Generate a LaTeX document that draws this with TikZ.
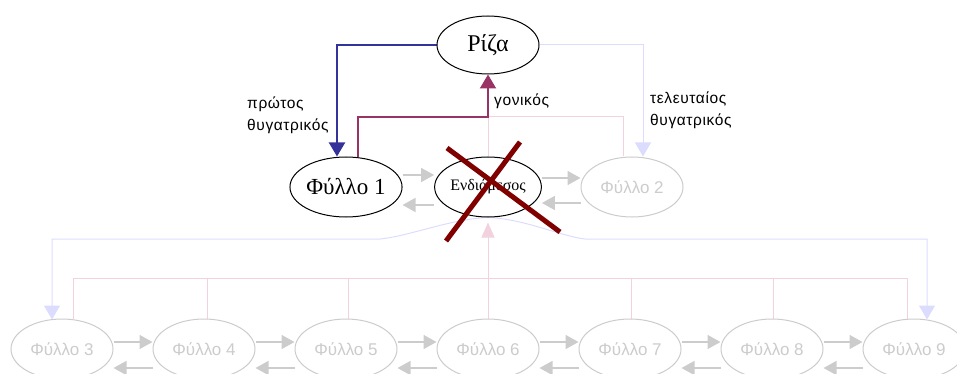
\documentclass[tikz,border=0pt]{standalone}
\usepackage{fontspec}
\setmainfont{Liberation Serif}
\setsansfont{Liberation Sans}
\newfontfamily\labelfont[LetterSpace=4]{Liberation Sans}
\usetikzlibrary{shapes.geometric,arrows.meta,backgrounds,calc}

\definecolor{linkblue}{HTML}{333399}
\definecolor{parentpurple}{HTML}{993366}
\definecolor{palepink}{HTML}{F2D2DE}
\definecolor{palelav}{HTML}{DCDCFF}
\definecolor{ghost}{HTML}{CCCCCC}
\definecolor{crossred}{HTML}{800000}

\begin{document}
\begin{tikzpicture}[x=1pt,y=-1pt,
  leaf/.style={ellipse,draw,fill=white,line width=1pt,minimum width=102pt,minimum height=60pt,inner sep=0pt},
  ghostleaf/.style={leaf,draw=ghost,text=ghost,font=\sffamily\fontsize{17}{17}\selectfont},
  bigtip/.style={-{Triangle[length=14pt,width=16pt]}},
  sib/.style={draw=ghost,line width=1.5pt,-{Triangle[length=13pt,width=14pt]}},
  lbl/.style={font=\labelfont\fontsize{15.5}{22}\selectfont,align=left,anchor=north west,inner sep=0pt},
]
\useasboundingbox (0,0) rectangle (957,374);
\clip (0,0) rectangle (957,374);

% tree nodes
\node[leaf,minimum height=58pt,font=\fontsize{24}{24}\selectfont] (root) at (488,45) {Ρίζα};
\node[leaf,font=\fontsize{23}{23}\selectfont] (leafA) at (346,187) {Φύλλο 1};
\node[leaf,font=\fontsize{16}{16}\selectfont] (mid) at (488,187) {Ενδιάμεσος};
\node[ghostleaf] (leafB) at (632,187) {Φύλλο 2};
\foreach \i/\x in {3/62,4/204,5/346,6/488,7/630,8/772,9/914}
  \node[ghostleaf] (leaf\i) at (\x,349) {Φύλλο \i};

% labels
\node[lbl] (lblfirst) at (247,97) {πρώτος\\θυγατρικός};
\node[lbl] (lblparent) at (494,94) {γονικός};
\node[lbl] (lbllast) at (650,92) {τελευταίος\\θυγατρικός};

\coordinate (join) at (488,117);

\begin{scope}[on background layer]
  % parent links (pale)
  \draw[palepink,line width=1pt] (mid.north) -- (join);
  \draw[palepink,line width=1pt] (join) -| ($(leafB.north)+(-9,0)$);
  \draw[palepink,line width=1pt] ($(leaf3.north)+(11,0)$) |- ($(leaf9.north)+(-7,-40)$) -- ($(leaf9.north)+(-7,0)$);
  \foreach \i/\dx in {4/3,5/2,7/1,8/1}
    \draw[palepink,line width=1pt] ($(leaf\i.north)+(\dx,0)$) -- +(0,-40);
  \draw[palepink,line width=1pt,-{Triangle[length=15pt,width=13pt]},shorten >=5pt] (leaf6.north) -- (mid.south);

  % parent link of the first leaf
  \draw[parentpurple,line width=2pt,bigtip] ($(leafA.north)+(12,1)$) |- (join) -- (root.south);

  % first child link
  \draw[linkblue,line width=2pt,bigtip] (root.west) -| ($(leafA.north)+(-9,0)$);

  % last child links (pale)
  \draw[palelav,line width=1pt,bigtip] (root.east) -| ($(leafB.north)+(11,0)$);
  \draw[palelav,line width=1pt,bigtip] (mid.south) .. controls (450,219) and (410,236) .. (380,239)
    -- (52,239) -- ($(leaf3.north)+(-10,1)$);
  \draw[palelav,line width=1pt,bigtip] (mid.south) .. controls (525,219) and (560,236) .. (585,239)
    -- (927,239) -- ($(leaf9.north)+(13,1)$);

  % sibling links
  \draw[sib] ([yshift=12pt]leafA.east) -- ([yshift=12pt]mid.west);
  \draw[sib] ([yshift=-18pt]mid.west) -- ([yshift=-18pt]leafA.east);
  \draw[sib] ([yshift=9pt]mid.east) -- ([yshift=9pt]leafB.west);
  \draw[sib] ([yshift=-16pt]leafB.west) -- ([yshift=-16pt]mid.east);
  \foreach \a/\b in {3/4,4/5,5/6,6/7,7/8,8/9} {
    \draw[sib] ([yshift=7pt]leaf\a.east) -- ([yshift=7pt]leaf\b.west);
    \draw[sib] ([yshift=-19pt]leaf\b.west) -- ([yshift=-19pt]leaf\a.east);
  }
\end{scope}

% the removed node is crossed out
\coordinate (xa) at (447,148);
\coordinate (xb) at (560,232);
\coordinate (xc) at (520,142);
\coordinate (xd) at (446,241);
\draw[crossred,line width=5pt] (xa) -- (xb);
\draw[crossred,line width=5pt] (xc) -- (xd);
\end{tikzpicture}
\end{document}
